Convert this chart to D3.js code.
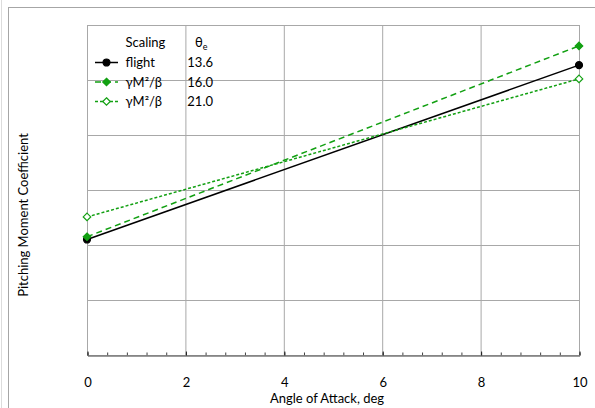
<!DOCTYPE html>
<html lang="en">
<head>
    <meta charset="UTF-8">
    <title>Pitching Moment Coefficient</title>
    <style>
        body { margin: 0; background: #fff; }
        svg { display: block; font-family: Lato, "Open Sans", sans-serif; }
    </style>
    <script src="https://cdnjs.cloudflare.com/ajax/libs/d3/7.8.5/d3.min.js"></script>
</head>
<body>
    <div id="chart"></div>

    <script>
        // Angle of attack (deg) at the two measured points
        const angles = [0, 10];

        // Pitching moment, in gridline units (the chart shows no y labels)
        const flightValues = [2.10, 5.27];
        const scaled16Values = [2.15, 5.62];
        const scaled21Values = [2.51, 5.02];

        const seriesNames = ["flight", "γM²/β", "γM²/β"];
        const thetaValues = ["13.6", "16.0", "21.0"];

        const xTicks = [0, 2, 4, 6, 8, 10];
        const yGrid = [0, 1, 2, 3, 4, 5, 6];

        const width = 595, height = 408;
        const plot = { left: 87, right: 579, top: 25, bottom: 355 };
        const fontSize = 13;

        const svg = d3.select("#chart")
            .append("svg")
            .attr("width", width)
            .attr("height", height);

        // faint edge line and chart area border
        svg.append("line")
            .attr("x1", 1.5).attr("x2", 1.5)
            .attr("y1", 0).attr("y2", height)
            .attr("stroke", "#dcdcdc");
        svg.append("rect")
            .attr("x", 8.5).attr("y", 7.5)
            .attr("width", 700).attr("height", 500)
            .attr("fill", "none")
            .attr("stroke", "#a6a6a6");

        const x = d3.scaleLinear().domain([0, 10]).range([plot.left, plot.right]);
        const y = d3.scaleLinear().domain([0, 6]).range([plot.bottom, plot.top]);

        // gridlines
        svg.append("g")
            .selectAll("line")
            .data(xTicks)
            .join("line")
            .attr("x1", d => x(d) + 0.5).attr("x2", d => x(d) + 0.5)
            .attr("y1", plot.top).attr("y2", plot.bottom)
            .attr("stroke", "#a8a8a8");
        svg.append("g")
            .selectAll("line")
            .data(yGrid)
            .join("line")
            .attr("x1", plot.left).attr("x2", plot.right)
            .attr("y1", d => y(d) + 0.5).attr("y2", d => y(d) + 0.5)
            .attr("stroke", "#a8a8a8");

        // x axis: minor ticks every 0.4, inside
        const minor = d3.range(0, 10.001, 0.4);
        svg.append("g")
            .attr("transform", `translate(0.5, ${plot.bottom + 0.5})`)
            .call(d3.axisBottom(x).tickValues(minor).tickSize(-3).tickFormat(""))
            .call(g => g.select(".domain").remove())
            .selectAll("line").attr("stroke", "#404040");

        const xAxis = svg.append("g")
            .attr("transform", `translate(0.5, ${plot.bottom + 0.5})`)
            .call(d3.axisBottom(x).tickValues(xTicks).tickSize(-4).tickSizeOuter(0).tickPadding(22));
        xAxis.select(".domain").attr("stroke", "#7a7a7a").attr("stroke-width", 1.5);
        xAxis.selectAll(".tick line").attr("stroke", "#202020");
        xAxis.selectAll("text")
            .attr("font-size", fontSize)
            .attr("font-family", "Lato, 'Open Sans', sans-serif")
            .attr("fill", "#000");

        // axis titles
        svg.append("text")
            .attr("x", 327).attr("y", 403)
            .attr("text-anchor", "middle")
            .attr("font-size", fontSize)
            .text("Angle of Attack, deg");
        svg.append("text")
            .attr("transform", "translate(28, 215) rotate(-90)")
            .attr("text-anchor", "middle")
            .attr("font-size", fontSize)
            .text("Pitching Moment Coefficient");

        // series
        const green = "#12a012";
        const series = [
            { values: flightValues, color: "#000", dash: null, marker: "circle", fill: "#000" },
            { values: scaled16Values, color: green, dash: "6,4", marker: "diamond", fill: green },
            { values: scaled21Values, color: green, dash: "3,2", marker: "diamond", fill: "#fff" }
        ];

        const line = d3.line()
            .x((d, i) => x(angles[i]))
            .y(d => y(d));

        const diamond = d3.symbol().type(d3.symbolDiamond2).size(36);
        const circle = d3.symbol().type(d3.symbolCircle).size(38);

        function drawMarker(g, s, px, py) {
            g.append("path")
                .attr("d", s.marker === "circle" ? circle() : diamond())
                .attr("transform", `translate(${px},${py})`)
                .attr("fill", s.fill)
                .attr("stroke", s.color)
                .attr("stroke-width", 1.2);
        }

        series.forEach(s => {
            svg.append("path")
                .datum(s.values)
                .attr("d", line)
                .attr("fill", "none")
                .attr("stroke", s.color)
                .attr("stroke-width", 1.5)
                .attr("stroke-dasharray", s.dash);
            const g = svg.append("g");
            s.values.forEach((v, i) => drawMarker(g, s, x(angles[i]), y(v)));
        });

        // legend
        const legend = svg.append("g").attr("font-size", fontSize);
        legend.append("text")
            .attr("x", 125.5).attr("y", 47)
            .text("Scaling");
        const theta = legend.append("text")
            .attr("x", 195).attr("y", 47);
        theta.append("tspan").text("θ");
        theta.append("tspan").attr("font-size", 9).attr("dy", 3).text("e");

        const rowY = [62.5, 82, 101.5];
        series.forEach((s, i) => {
            const ry = rowY[i];
            legend.append("line")
                .attr("x1", 95).attr("x2", 118)
                .attr("y1", ry).attr("y2", ry)
                .attr("stroke", s.color)
                .attr("stroke-width", 1.5)
                .attr("stroke-dasharray", s.dash);
            drawMarker(legend, s, 106.5, ry);
            legend.append("text")
                .attr("x", 125.5).attr("y", ry + 4.5)
                .text(seriesNames[i]);
            legend.append("text")
                .attr("x", 213).attr("y", ry + 4.5)
                .attr("text-anchor", "end")
                .text(thetaValues[i]);
        });
    </script>
</body>
</html>
